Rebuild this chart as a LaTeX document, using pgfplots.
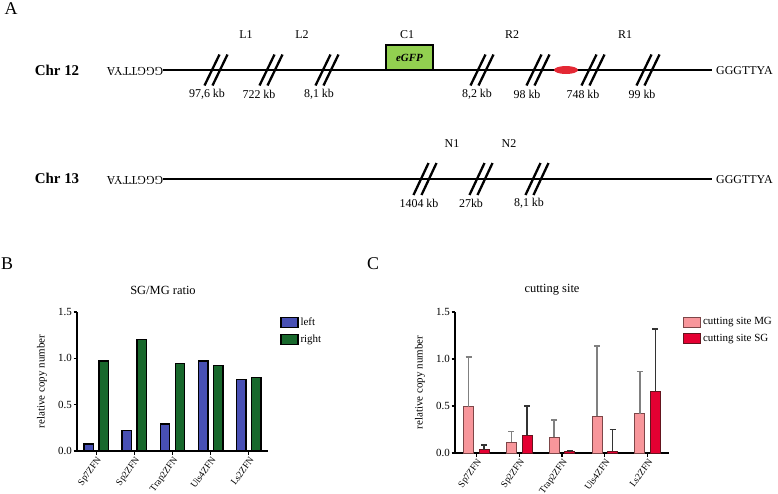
\documentclass[border=0pt]{standalone}
\usepackage{pgfplots}
\pgfplotsset{compat=1.18}
\usepackage{fontspec}
\setmainfont{Liberation Serif}
\definecolor{gfp}{RGB}{146,208,80}
\definecolor{ellred}{RGB}{228,40,52}
\definecolor{blueL}{RGB}{72,80,180}
\definecolor{greenR}{RGB}{24,104,44}
\definecolor{pinkMG}{RGB}{248,150,155}
\definecolor{redSG}{RGB}{228,0,50}
\definecolor{brdMG}{RGB}{125,70,72}
\definecolor{brdSG}{RGB}{100,20,30}
\begin{document}
\begin{tikzpicture}
\path[use as bounding box] (0,0) rectangle (778bp,-494bp);
\clip (0,0) rectangle (778bp,-494bp);
% ---------------- Panel A (schematic) ----------------
\begin{axis}[at={(0,0)}, anchor=north west, scale only axis, width=778bp, height=494bp,
  xmin=0, xmax=778, ymin=0, ymax=494, y dir=reverse, hide axis, clip=false]
\node[font=\fontsize{18}{20}\selectfont] at (axis cs:11,9) {A};
\node[font=\fontsize{18}{20}\selectfont] at (axis cs:7,264) {B};
\node[font=\fontsize{18}{20}\selectfont] at (axis cs:373,264) {C};
% Chr 12
\node[font=\fontsize{15}{17}\selectfont\bfseries] at (axis cs:57,70) {Chr 12};
\node[rotate=180, font=\fontsize{12}{14}\selectfont] at (axis cs:135,71) {GGGTTYA};
\node[anchor=west, inner sep=0pt, font=\fontsize{12}{14}\selectfont] at (axis cs:716,70.5) {GGGTTYA};
\draw[line width=1.2bp] (axis cs:163,70) -- (axis cs:712,70);
\draw[line width=1.2bp, fill=gfp] (axis cs:386,45) rectangle (axis cs:433,70);
\node[font=\fontsize{11}{13}\selectfont\bfseries\itshape] at (axis cs:409.5,58) {eGFP};
\fill[ellred] (axis cs:566,70) ellipse [x radius=12bp, y radius=4bp];
\pgfplotsinvokeforeach{216,271,327,482,538,593,648}{
  \draw[line width=2.3bp] ([xshift=-11.5bp,yshift=-15.5bp]axis cs:#1,70) -- ([xshift=3.5bp,yshift=15.5bp]axis cs:#1,70);
  \draw[line width=2.3bp] ([xshift=-3.5bp,yshift=-15.5bp]axis cs:#1,70) -- ([xshift=11.5bp,yshift=15.5bp]axis cs:#1,70);
}
\begin{scope}[font=\fontsize{12}{14}\selectfont]
\node at (axis cs:207,94) {97,6 kb};
\node at (axis cs:259,94) {722 kb};
\node at (axis cs:319,94) {8,1 kb};
\node at (axis cs:477,94) {8,2 kb};
\node at (axis cs:527,94) {98 kb};
\node at (axis cs:583,94) {748 kb};
\node at (axis cs:642,94) {99 kb};
\node at (axis cs:246,35) {L1};
\node at (axis cs:302,35) {L2};
\node at (axis cs:407,35) {C1};
\node at (axis cs:512,35) {R2};
\node at (axis cs:625,35) {R1};
\end{scope}
% Chr 13
\node[font=\fontsize{15}{17}\selectfont\bfseries] at (axis cs:57,178) {Chr 13};
\node[rotate=180, font=\fontsize{12}{14}\selectfont] at (axis cs:135,180) {GGGTTYA};
\node[anchor=west, inner sep=0pt, font=\fontsize{12}{14}\selectfont] at (axis cs:716,179.5) {GGGTTYA};
\draw[line width=1.2bp] (axis cs:163,179) -- (axis cs:712,179);
\pgfplotsinvokeforeach{425,481,537}{
  \draw[line width=2.3bp] ([xshift=-11.5bp,yshift=-16bp]axis cs:#1,179) -- ([xshift=3.5bp,yshift=16bp]axis cs:#1,179);
  \draw[line width=2.3bp] ([xshift=-3.5bp,yshift=-16bp]axis cs:#1,179) -- ([xshift=11.5bp,yshift=16bp]axis cs:#1,179);
}
\begin{scope}[font=\fontsize{12}{14}\selectfont]
\node at (axis cs:419,203) {1404 kb};
\node at (axis cs:471,203) {27kb};
\node at (axis cs:529,203) {8,1 kb};
\node at (axis cs:452,144) {N1};
\node at (axis cs:509,144) {N2};
\end{scope}
% panel titles
\node[font=\fontsize{12.5}{14}\selectfont] at (axis cs:163,290) {SG/MG ratio};
\node[font=\fontsize{12.5}{14}\selectfont] at (axis cs:552,290) {cutting site};
\end{axis}
% ---------------- common style for B and C ----------------
\pgfplotsset{panel/.style={
  scale only axis, xmin=-0.5, xmax=4.5, ymin=0, ymax=1.5,
  axis x line*=bottom, axis y line*=left,
  axis line style={line width=1.3bp, -},
  ybar, xtick={0,...,4}, xticklabels={Sp7ZFN,Sp2ZFN,Trap2ZFN,Uis4ZFN,Ls2ZFN},
  x tick label style={rotate=54, anchor=north east, inner sep=1bp, font=\fontsize{9.5}{10.5}\selectfont},
  ytick={0,0.5,1,1.5},
  y tick label style={font=\fontsize{11}{12}\selectfont, inner sep=1.5bp,
     /pgf/number format/.cd, fixed, fixed zerofill, precision=1},
  /pgf/number format/assume math mode=true,
  tick align=outside, major tick length=3.5bp, tick style={line width=1.2bp, black},
  ylabel={relative copy number},
  label style={font=\fontsize{11}{13}\selectfont},
  legend style={draw=none, fill=none, anchor=north west, inner sep=0pt,
     font=\fontsize{11}{13}\selectfont, row sep=4bp,
     /tikz/every even column/.append style={column sep=4bp}},
  legend cell align=left,
  legend image code/.code={\draw[##1] (0bp,-5bp) rectangle (17bp,5bp);},
}}
% ---------------- Panel B ----------------
\begin{axis}[panel, at={(77bp,-451bp)}, anchor=south west, width=191bp, height=139bp,
  bar width=9.5bp,
  ylabel style={at={(axis description cs:-0.183,0.5)}, anchor=center},
  legend style={at={(axis description cs:1.063,0.975)}}]
\addplot[fill=blueL, draw=black, line width=1.3bp, bar shift=-7.5bp]
  coordinates {(0,0.076) (1,0.22) (2,0.29) (3,0.97) (4,0.77)};
\addplot[fill=greenR, draw=black, line width=1.3bp, bar shift=7.5bp]
  coordinates {(0,0.97) (1,1.205) (2,0.946) (3,0.92) (4,0.79)};
\legend{left,right}
\end{axis}
% ---------------- Panel C ----------------
\begin{axis}[panel, at={(455bp,-453bp)}, anchor=south west, width=214bp, height=141bp,
  bar width=10bp,
  ylabel style={at={(axis description cs:-0.164,0.5)}, anchor=center},
  legend style={at={(axis description cs:1.065,0.975)}}]
\addplot[fill=pinkMG, draw=brdMG, line width=1bp, bar shift=-7.8bp,
  error bars/.cd, y dir=plus, y explicit,
  error bar style={line width=1.7bp, black!50},
  error mark options={rotate=90, mark size=3bp, line width=1.7bp, black!50}]
  coordinates {(0,0.494) +- (0,0.53) (1,0.116) +- (0,0.113) (2,0.166) +- (0,0.183)
               (3,0.392) +- (0,0.748) (4,0.42) +- (0,0.448)};
\addplot[fill=redSG, draw=brdSG, line width=1bp, bar shift=7.8bp,
  error bars/.cd, y dir=plus, y explicit,
  error bar style={line width=1.5bp, black!80},
  error mark options={rotate=90, mark size=3bp, line width=1.5bp, black!80}]
  coordinates {(0,0.032) +- (0,0.053) (1,0.19) +- (0,0.31) (2,0.011) +- (0,0.017)
               (3,0.021) +- (0,0.229) (4,0.657) +- (0,0.663)};
\legend{cutting site MG,cutting site SG}
\end{axis}
\end{tikzpicture}
\end{document}
